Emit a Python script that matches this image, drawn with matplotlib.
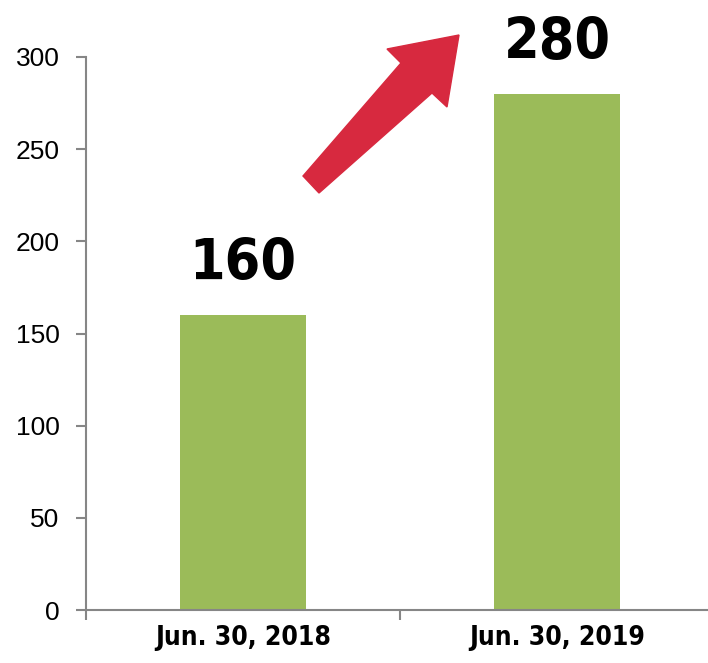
import matplotlib.pyplot as plt
from matplotlib.patches import Polygon

# data
categories = ['Jun. 30, 2018', 'Jun. 30, 2019']
values = [160, 280]
yticks = [0, 50, 100, 150, 200, 250, 300]

bar_color = '#9BBB59'
spine_color = '#868686'
arrow_color = '#D7293F'

W, H = 708, 663
fig = plt.figure(figsize=(W / 100, H / 100), dpi=100)
ax = fig.add_axes([86 / W, 1 - 610 / H, 628 / W, (610 - 57) / H])

x = list(range(len(categories)))
bars = ax.bar(x, values, width=0.4, color=bar_color, zorder=2)
ax.set_xlim(-0.5, 1.5)
ax.set_ylim(0, 300)

# value labels above bars
for rect, v in zip(bars, values):
    ax.annotate(str(v), (rect.get_x() + rect.get_width() / 2, v),
                xytext=(0, 25), textcoords='offset points',
                ha='center', va='baseline', fontsize=41, fontweight='bold',
                family='DejaVu Sans', fontstretch='condensed')

# spines
for s in ['top', 'right']:
    ax.spines[s].set_visible(False)
for s in ['left', 'bottom']:
    ax.spines[s].set_color(spine_color)
    ax.spines[s].set_linewidth(1.5)

ax.set_yticks(yticks)
ax.tick_params(axis='y', length=7, width=1.5, color=spine_color, pad=12,
               labelsize=19)
for lbl in ax.get_yticklabels():
    lbl.set_family(['Liberation Sans', 'DejaVu Sans'])

# category boundaries as major ticks, labels on minor ticks
ax.set_xticks([-0.5, 0.5, 1.5])
ax.set_xticklabels([])
ax.set_xticks(x, minor=True)
ax.set_xticklabels(categories, minor=True)
ax.tick_params(axis='x', which='major', length=7, width=1.5, color=spine_color)
ax.tick_params(axis='x', which='minor', length=0, pad=11, labelsize=19)
for lbl in ax.get_xticklabels(minor=True):
    lbl.set_family('DejaVu Sans')
    lbl.set_fontstretch('condensed')
    lbl.set_fontweight('bold')

# decorative red arrow (pixel outline, y measured from top)
arrow_px = [(303, 176), (401, 63), (387, 49), (459, 35),
            (447, 107), (432, 93), (319, 193)]
arrow_pts = [(px / W, 1 - py / H) for px, py in arrow_px]
fig.patches.append(Polygon(arrow_pts, closed=True, color=arrow_color,
                           transform=fig.transFigure, zorder=5))

fig.savefig('out.png', dpi=100)
